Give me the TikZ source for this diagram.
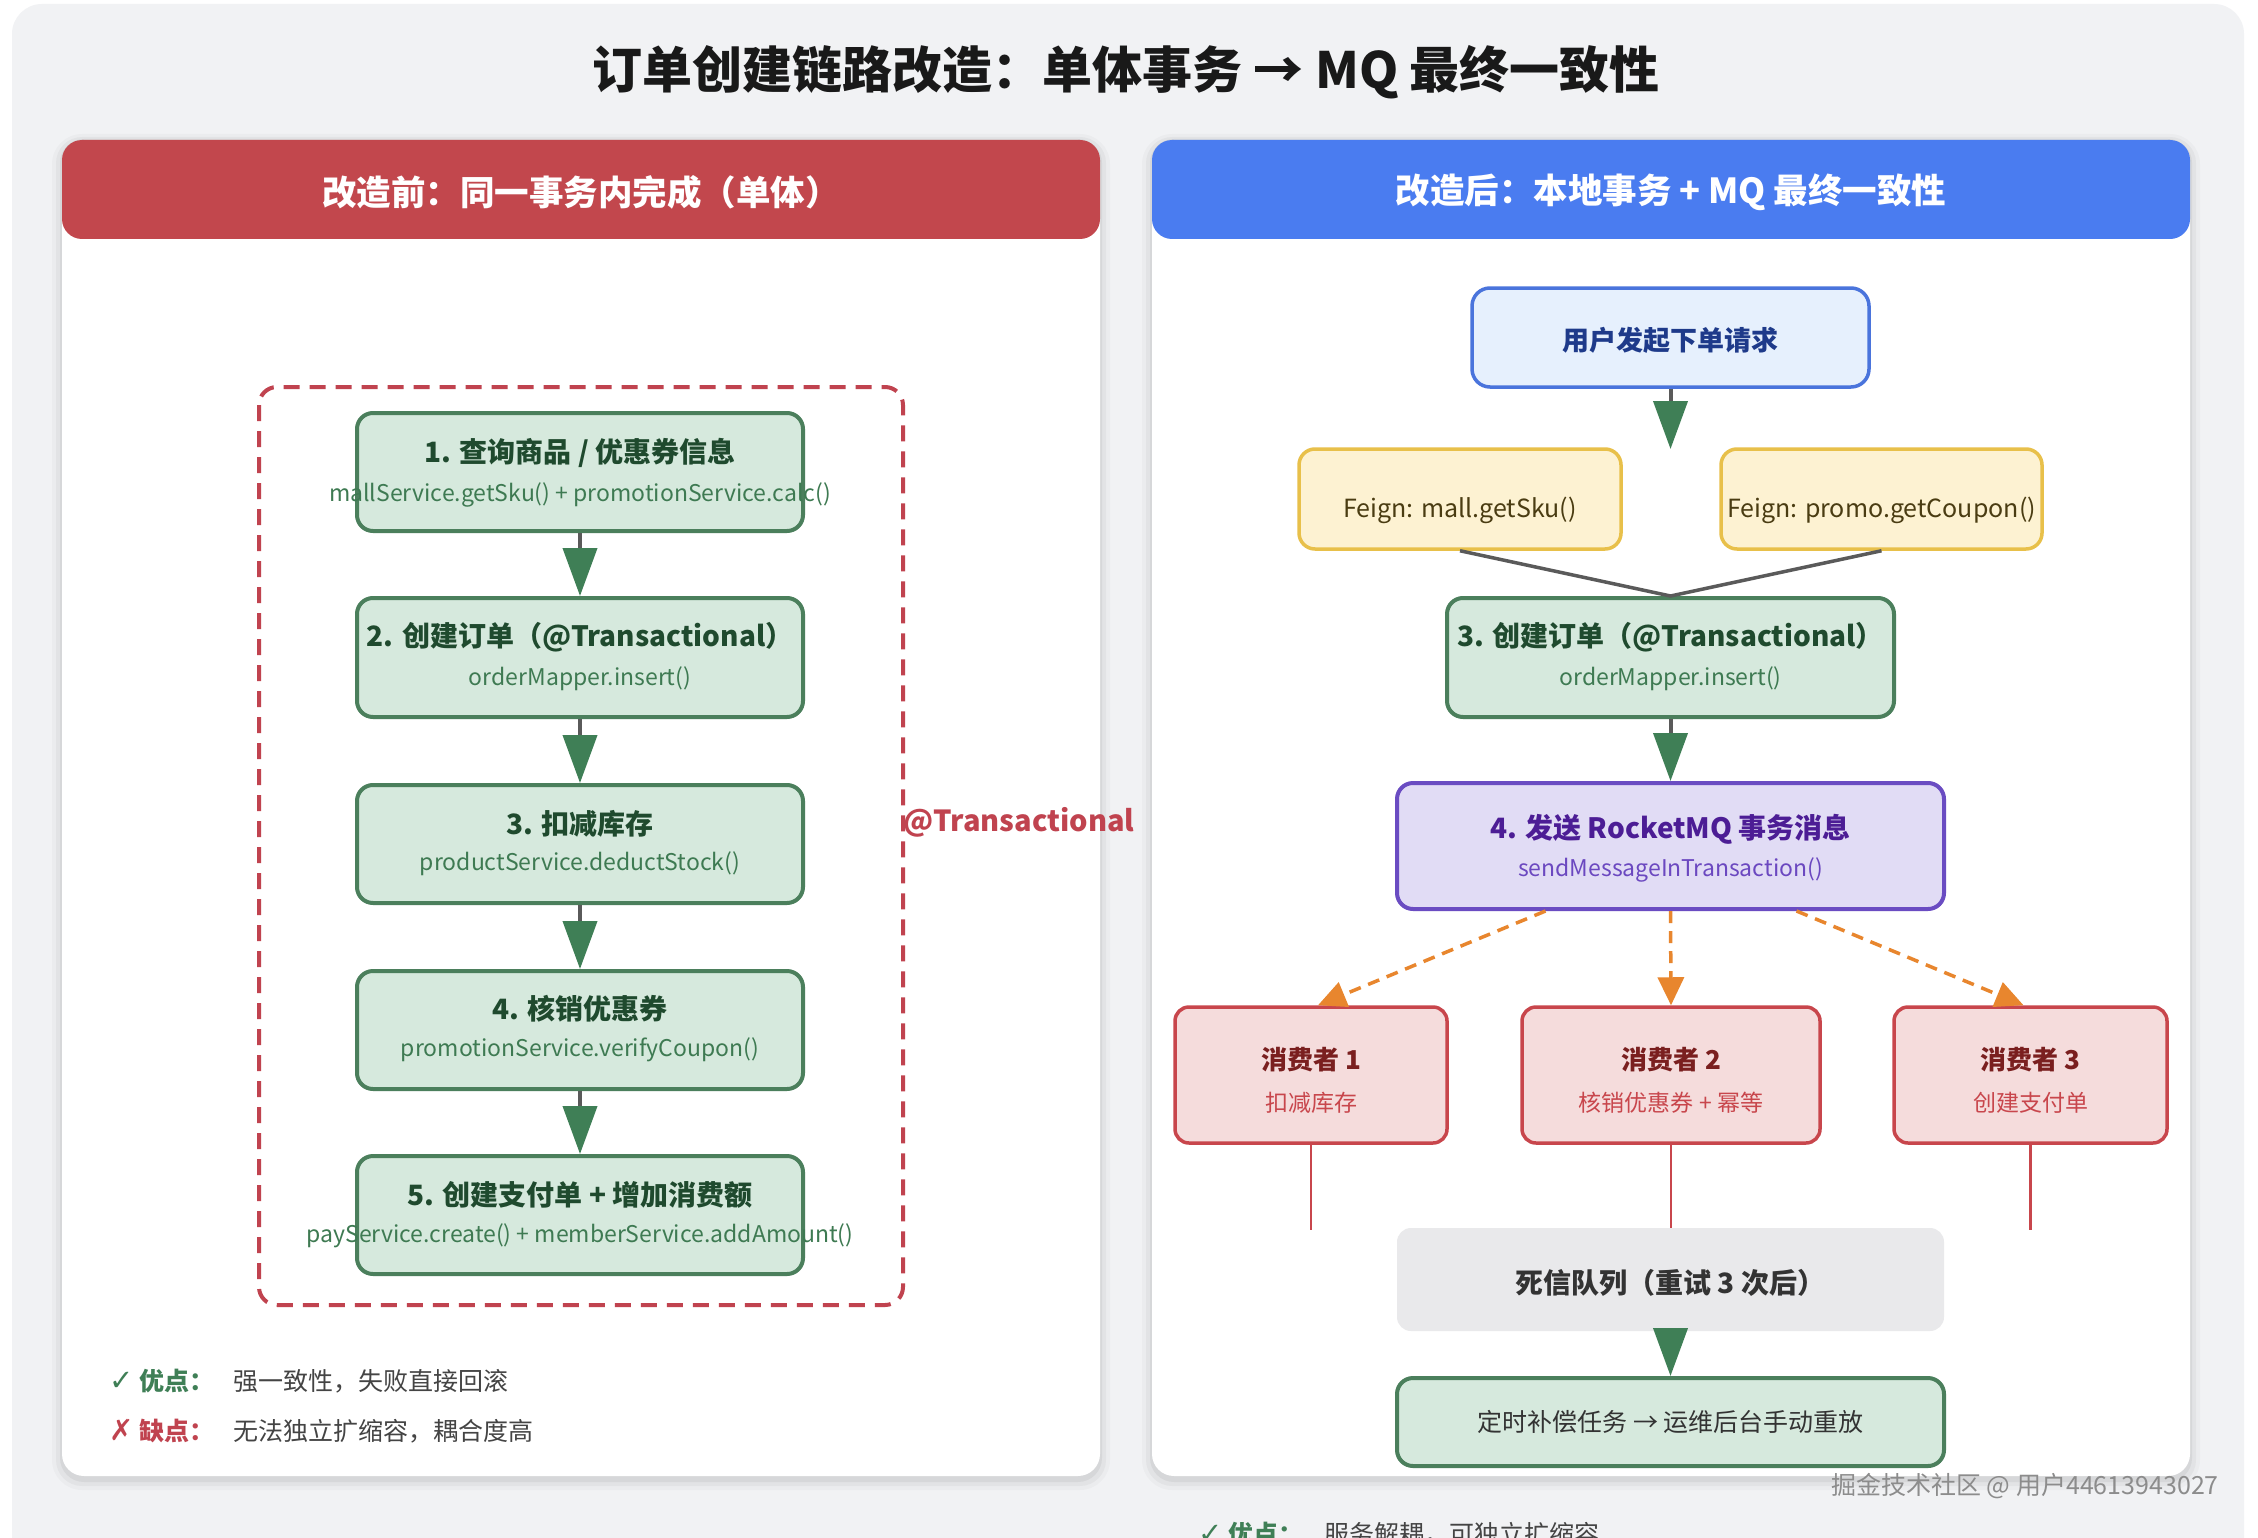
\documentclass[tikz,border=0pt]{standalone}
\usepackage{fontspec}
\setmainfont{Noto Sans CJK SC}
\newfontfamily\symfont{DejaVu Sans}
\usetikzlibrary{arrows.meta,calc}
\newcommand\pxsize[1]{\fontsize{#1}{#1}\selectfont}
\definecolor{bggray}{HTML}{F1F2F4}
\definecolor{redhead}{HTML}{C2474D}
\definecolor{bluehead}{HTML}{4A7CF0}
\definecolor{dashred}{HTML}{C0434F}
\definecolor{gfill}{HTML}{D6E9DD}
\definecolor{gborder}{HTML}{4B7F5C}
\definecolor{gtext}{HTML}{1F4A2E}
\definecolor{gsub}{HTML}{3E7A52}
\definecolor{agreen}{HTML}{3F7F56}
\definecolor{stemgray}{HTML}{5A5A5A}
\definecolor{yfill}{HTML}{FDF2D2}
\definecolor{yborder}{HTML}{E8C04A}
\definecolor{ytext}{HTML}{4A3C12}
\definecolor{bfill}{HTML}{E6F0FD}
\definecolor{bborder}{HTML}{4A74DC}
\definecolor{btext}{HTML}{1E3A8A}
\definecolor{pfill}{HTML}{E1DCF5}
\definecolor{pborder}{HTML}{6A4CC2}
\definecolor{ptext}{HTML}{4C1D95}
\definecolor{psub}{HTML}{6B48C0}
\definecolor{orange}{HTML}{E8862E}
\definecolor{cfill}{HTML}{F5DCDC}
\definecolor{cborder}{HTML}{C8464C}
\definecolor{ctext}{HTML}{7A1F1F}
\definecolor{dlqfill}{HTML}{E9E9EB}
\definecolor{darktext}{HTML}{333333}
\definecolor{bodytext}{HTML}{444444}
\definecolor{wm}{HTML}{8C8C8C}
\begin{document}
\begin{tikzpicture}[x=1pt,y=-1pt,
  box/.style={line width=4pt, rounded corners=16pt, inner sep=0pt},
  gbox/.style={box, draw=gborder, fill=gfill},
  gtitle/.style={font=\pxsize{28}\bfseries, text=gtext, inner sep=0pt},
  gsubt/.style={font=\pxsize{23}, text=gsub, inner sep=0pt},
  flow/.style={draw=stemgray, line width=4pt, -{Triangle[width=34pt,length=48pt,color=agreen]}},
  oflow/.style={draw=orange, line width=3.5pt, dash pattern=on 12pt off 8pt, -{Triangle[width=26pt,length=28pt,color=orange]}},
  hdr/.style={font=\pxsize{34.5}\bfseries, text=white},
  plain/.style={inner sep=0pt}
]
\useasboundingbox (0,0) rectangle (2258,1538);
\fill[white] (0,0) rectangle (2258,1538);
\fill[bggray, rounded corners=30pt] (12,4) rectangle (2244,1580);

% title
\node[plain, font=\pxsize{50}\bfseries, text=black!90] (title) at (1126,72) {订单创建链路改造：单体事务 → MQ 最终一致性};

% card shadows and cards
\foreach \dx in {0,1090}{
  \fill[black, opacity=0.025, rounded corners=30pt] ($(52+\dx,134)$) rectangle ($(1110+\dx,1490)$);
  \fill[black, opacity=0.035, rounded corners=26pt] ($(56+\dx,137)$) rectangle ($(1106+\dx,1486)$);
  \fill[black, opacity=0.05, rounded corners=24pt] ($(60+\dx,139)$) rectangle ($(1102+\dx,1482)$);
  \fill[white, rounded corners=22pt] ($(62+\dx,140)$) rectangle ($(1100+\dx,1476)$);
}
% headers
\fill[redhead, rounded corners=20pt] (62,140) rectangle (1100,239);
\node[hdr] (hl) at (581,192) {改造前：同一事务内完成（单体）};
\fill[bluehead, rounded corners=20pt] (1152,140) rectangle (2190,239);
\node[hdr] (hr) at (1671,192) {改造后：本地事务 + MQ 最终一致性};

% ---------- left panel ----------
\draw[dashred, line width=4pt, dash pattern=on 16pt off 10pt, rounded corners=18pt] (259,387) rectangle (903,1305);

\node[gbox, minimum width=446pt, minimum height=118pt] (b1) at (580,472) {};
\node[gbox, minimum width=446pt, minimum height=119pt] (b2) at (580,657.5) {};
\node[gbox, minimum width=446pt, minimum height=118pt] (b3) at (580,844) {};
\node[gbox, minimum width=446pt, minimum height=118pt] (b4) at (580,1030) {};
\node[gbox, minimum width=446pt, minimum height=118pt] (b5) at (580,1215) {};

\node[gtitle] (b1t) at ([yshift=19pt]b1.center) {1. 查询商品 / 优惠券信息};
\node[gsubt] (b1s) at ([yshift=-23pt]b1.center) {mallService.getSku() + promotionService.calc()};
\node[gtitle] (b2t) at ([yshift=20pt]b2.center) {2. 创建订单（@Transactional）};
\node[gsubt] (b2s) at ([yshift=-21pt]b2.center) {orderMapper.insert()};
\node[gtitle] (b3t) at ([yshift=20pt]b3.center) {3. 扣减库存};
\node[gsubt] (b3s) at ([yshift=-20pt]b3.center) {productService.deductStock()};
\node[gtitle] (b4t) at ([yshift=21pt]b4.center) {4. 核销优惠券};
\node[gsubt] (b4s) at ([yshift=-20pt]b4.center) {promotionService.verifyCoupon()};
\node[gtitle] (b5t) at ([yshift=20pt]b5.center) {5. 创建支付单 + 增加消费额};
\node[gsubt] (b5s) at ([yshift=-21pt]b5.center) {payService.create() + memberService.addAmount()};

\draw[flow] (b1) -- (b2);
\draw[flow] (b2) -- (b3);
\draw[flow] (b3) -- (b4);
\draw[flow] (b4) -- (b5);

\node[plain, anchor=west, font=\pxsize{29}\bfseries, text=dashred] (tx) at (903,822) {@Transactional};

\node[plain, anchor=west, font=\pxsize{25}\bfseries, text=agreen] (pro) at (109,1381) {{\symfont\mdseries\pxsize{29}✓} 优点：};
\node[plain, anchor=west, font=\pxsize{25}, text=bodytext] (protx) at (233,1381) {强一致性，失败直接回滚};
\node[plain, anchor=west, font=\pxsize{25}\bfseries, text=dashred] (con) at (109,1431) {{\symfont\mdseries\pxsize{29}✗} 缺点：};
\node[plain, anchor=west, font=\pxsize{25}, text=bodytext] (contx) at (233,1431) {无法独立扩缩容，耦合度高};

% ---------- right panel ----------
\node[box, draw=bborder, fill=bfill, line width=3.5pt, rounded corners=18pt, minimum width=397pt, minimum height=99pt] (u) at (1670.5,337.5) {};
\node[plain, font=\pxsize{27}\bfseries, text=btext] (ut) at ([yshift=-3pt]u.center) {用户发起下单请求};
\coordinate (ue) at (1670.5,449);
\draw[flow] (u) -- (ue);

\node[box, draw=yborder, fill=yfill, line width=3.5pt, minimum width=322pt, minimum height=100pt] (y1) at (1460,499) {};
\node[box, draw=yborder, fill=yfill, line width=3.5pt, minimum width=321pt, minimum height=100pt] (y2) at (1881.5,499) {};
\node[plain, font=\pxsize{25}, text=ytext] (y1t) at ([yshift=-11pt]y1.center) {Feign: mall.getSku()};
\node[plain, font=\pxsize{25}, text=ytext] (y2t) at ([yshift=-11pt]y2.center) {Feign: promo.getCoupon()};

\node[gbox, minimum width=447pt, minimum height=119pt] (g3) at (1670.5,657.5) {};
\node[gtitle] (g3t) at ([yshift=20pt]g3.center) {3. 创建订单（@Transactional）};
\node[gsubt] (g3s) at ([yshift=-21pt]g3.center) {orderMapper.insert()};

\draw[stemgray, line width=3.5pt] (y1.south) -- (g3.north) -- (y2.south);

\node[box, draw=pborder, fill=pfill, minimum width=547pt, minimum height=126pt] (p4) at (1670.5,846) {};
\node[plain, font=\pxsize{28}\bfseries, text=ptext] (p4t) at ([yshift=17pt]p4.center) {4. 发送 RocketMQ 事务消息};
\node[plain, font=\pxsize{23}, text=psub] (p4s) at ([yshift=-24pt]p4.center) {sendMessageInTransaction()};
\draw[flow] (g3) -- (p4);

\node[box, draw=cborder, fill=cfill, line width=3.5pt, rounded corners=14pt, minimum width=272pt, minimum height=136pt] (c1) at (1311,1075) {};
\node[box, draw=cborder, fill=cfill, line width=3.5pt, rounded corners=14pt, minimum width=298pt, minimum height=136pt] (c2) at (1671,1075) {};
\node[box, draw=cborder, fill=cfill, line width=3.5pt, rounded corners=14pt, minimum width=273pt, minimum height=136pt] (c3) at (2030.5,1075) {};
\node[plain, font=\pxsize{26}\bfseries, text=ctext] (c1t) at ([yshift=15pt]c1.center) {消费者 1};
\node[plain, font=\pxsize{23}, text=cborder] (c1s) at ([yshift=-28pt]c1.center) {扣减库存};
\node[plain, font=\pxsize{26}\bfseries, text=ctext] (c2t) at ([yshift=15pt]c2.center) {消费者 2};
\node[plain, font=\pxsize{23}, text=cborder] (c2s) at ([yshift=-28pt]c2.center) {核销优惠券 + 幂等};
\node[plain, font=\pxsize{26}\bfseries, text=ctext] (c3t) at ([yshift=15pt]c3.center) {消费者 3};
\node[plain, font=\pxsize{23}, text=cborder] (c3s) at ([yshift=-28pt]c3.center) {创建支付单};

\draw[oflow] ([xshift=-125pt]p4.south) -- ([xshift=7pt]c1.north);
\draw[oflow] (p4.south) -- (c2.north);
\draw[oflow] ([xshift=126pt]p4.south) -- ([xshift=-7pt]c3.north);

\coordinate (e1) at (1311,1230);
\coordinate (e2) at (1671,1230);
\coordinate (e3) at (2030.5,1230);
\draw[cborder, line width=2.5pt] (c1.south) -- (e1);
\draw[cborder, line width=2.5pt] (c2.south) -- (e2);
\draw[cborder, line width=2.5pt] (c3.south) -- (e3);

\node[box, fill=dlqfill, rounded corners=14pt, minimum width=547pt, minimum height=103pt] (dlq) at (1670.5,1279.5) {};
\node[plain, font=\pxsize{28}\bfseries, text=darktext] (dlqt) at ([yshift=-3pt]dlq.center) {死信队列（重试 3 次后）};

\node[gbox, minimum width=547pt, minimum height=88pt] (fin) at (1670.5,1422) {};
\node[plain, font=\pxsize{25}, text=darktext] (fint) at (fin.center) {定时补偿任务 → 运维后台手动重放};
\draw[flow] (dlq) -- (fin);

\node[plain, anchor=east, font=\pxsize{25}, text=wm] (wmk) at (2219,1486) {掘金技术社区 @ 用户44613943027};

\node[plain, anchor=west, font=\pxsize{25}\bfseries, text=agreen] (pro2) at (1198,1534) {{\symfont\mdseries\pxsize{29}✓} 优点：};
\node[plain, anchor=west, font=\pxsize{25}, text=bodytext] (pro2t) at (1324,1534) {服务解耦，可独立扩缩容};
\end{tikzpicture}
\end{document}
